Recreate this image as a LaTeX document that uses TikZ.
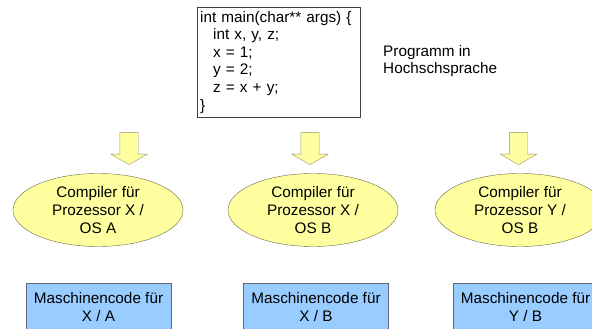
\documentclass[tikz,border=0pt]{standalone}
\usepackage{fontspec}
\setmainfont{Liberation Sans}
\usetikzlibrary{shapes.geometric,shapes.arrows,positioning}
\definecolor{compfill}{RGB}{255,255,160}
\definecolor{compline}{RGB}{105,105,70}
\definecolor{arrline}{RGB}{150,150,100}
\definecolor{codefill}{RGB}{153,204,255}
\definecolor{codeline}{RGB}{95,100,120}

\begin{document}
\begin{tikzpicture}[x=1pt, y=-1pt,
    every node/.style={font=\fontsize{15.3}{17.6}\selectfont, inner sep=0pt},
    compiler/.style={ellipse, draw=compline, fill=compfill, align=center,
        minimum width=170pt, minimum height=73pt},
    target/.style={rectangle, draw=codeline, fill=codefill, align=center,
        minimum width=145pt, minimum height=48pt, anchor=north},
    flow/.style={single arrow, draw=arrline, fill=compfill, rotate=-90,
        minimum height=32pt, single arrow head extend=9pt,
        single arrow tip angle=120}]

    \useasboundingbox (0,0) rectangle (592,329);
    \clip (0,0) rectangle (592,329);

    % source program
    \node[draw=black!75, fill=white, anchor=north west, text width=157pt,
        inner xsep=3pt, minimum height=110pt, align=left] (code) at (197,7)
        {int main(char** args) \{\\
        \hspace*{13pt}int x, y, z;\\
        \hspace*{13pt}x = 1;\\
        \hspace*{13pt}y = 2;\\
        \hspace*{13pt}z = x + y;\\
        \}};
    \node[anchor=west, align=left] (prog) at (383,61) {Programm in\\Hochschsprache};

    % compilers
    \node[flow] (arrA) at (129,146) {\rule{0pt}{18pt}};
    \node[flow] (arrB) at (310,146) {\rule{0pt}{18pt}};
    \node[flow] (arrC) at (518.5,146) {\rule{0pt}{18pt}};

    \node[compiler] (compA) at (98,210) {Compiler für\\Prozessor X /\\OS A};
    \node[compiler] (compB) at (313,210) {Compiler für\\Prozessor X /\\OS B};
    \node[compiler] (compC) at (520,210) {Compiler für\\Prozessor Y /\\OS B};

    % machine code
    \node[target] (codeA) at (98.5,283) {Maschinencode für\\X / A};
    \node[target] (codeB) at (316,283) {Maschinencode für\\X / B};
    \node[target] (codeC) at (525.5,283) {Maschinencode für\\Y / B};

\end{tikzpicture}
\end{document}
